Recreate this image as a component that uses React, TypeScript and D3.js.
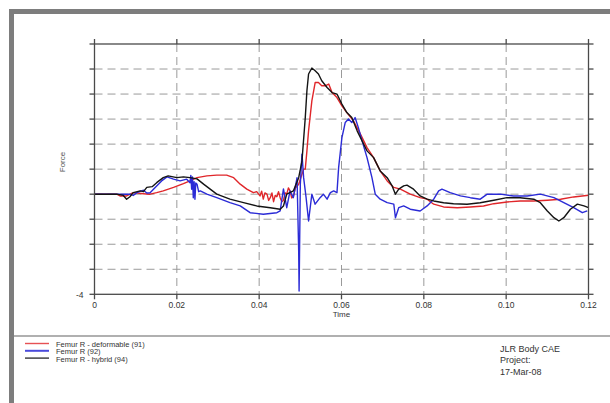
import React from 'react';
import * as d3 from 'd3';

// ---- data ----
const TIME_TICKS = [0, 0.02, 0.04, 0.06, 0.08, 0.1, 0.12];
const TIME_LABELS = ['0', '0.02', '0.04', '0.06', '0.08', '0.10', '0.12'];
const FORCE_TICKS = [-4, -3, -2, -1, 0, 1, 2, 3, 4, 5, 6];
const FORCE_LABELS = ['-4', '', '', '', '', '', '', '', '', '', ''];

// Femur R - deformable (91)  [time, force]
const deformable: [number, number][] = [
  [0, 0], [0.0054, 0], [0.0062, -0.07], [0.0078, -0.07], [0.0094, 0.06], [0.0119, 0.02],
  [0.0135, 0], [0.0151, 0.06], [0.0167, 0.13], [0.0192, 0.27], [0.0216, 0.42], [0.0232, 0.53],
  [0.0249, 0.66], [0.0273, 0.73], [0.0297, 0.76], [0.0321, 0.76], [0.0338, 0.66], [0.0354, 0.4],
  [0.037, 0.2], [0.0386, 0.06], [0.0394, 0.1], [0.0402, -0.07], [0.0406, 0.12], [0.041, -0.2],
  [0.0414, 0.05], [0.0419, 0.0], [0.0423, -0.25], [0.0427, -0.14], [0.0431, 0.05], [0.0435, -0.3],
  [0.0439, -0.05], [0.0443, -0.1], [0.0447, 0.1], [0.0451, -0.14], [0.0455, -0.3], [0.0459, -0.25],
  [0.0463, 0.05], [0.0467, 0], [0.0471, 0.25], [0.0475, 0.13], [0.0479, -0.15], [0.0483, -0.1],
  [0.0488, 0.25], [0.0496, 0.4], [0.0508, 1.0], [0.0512, 1.0], [0.0516, 1.73], [0.052, 2.53],
  [0.0528, 3.73], [0.0536, 4.46], [0.0544, 4.46], [0.0552, 4.33], [0.056, 4.33], [0.0569, 4.4],
  [0.0577, 4.06], [0.0589, 3.86], [0.0601, 3.53], [0.0613, 3.26], [0.0629, 2.93], [0.0646, 2.4],
  [0.0662, 1.86], [0.0678, 1.46], [0.0694, 0.93], [0.0711, 0.53], [0.0727, 0.27], [0.0743, 0.2],
  [0.0767, 0], [0.0791, -0.14], [0.0808, -0.2], [0.0824, -0.4], [0.0848, -0.51], [0.0881, -0.54],
  [0.0913, -0.51], [0.0945, -0.47], [0.097, -0.38], [0.1002, -0.31], [0.1034, -0.27], [0.1067, -0.27],
  [0.11, -0.24], [0.1132, -0.2], [0.1164, -0.11], [0.12, -0.04],
];

// Femur R (92)
const femur92: [number, number][] = [
  [0, 0], [0.0086, 0], [0.0094, -0.05], [0.0103, 0.06], [0.0119, 0.16], [0.0127, 0.05],
  [0.0135, 0.06], [0.0151, 0.33], [0.0163, 0.53], [0.0176, 0.69], [0.0192, 0.6], [0.0208, 0.53],
  [0.0224, 0.6], [0.0232, 0.46], [0.0234, 0.75], [0.0236, 0.2], [0.0238, 0.69], [0.024, -0.14],
  [0.0242, 0.5], [0.0244, -0.2], [0.0246, 0.45], [0.0249, 0.4], [0.0253, 0.1], [0.0257, 0.13],
  [0.0273, 0], [0.0297, -0.14], [0.0329, -0.34], [0.0354, -0.47], [0.0378, -0.74], [0.041, -0.8],
  [0.0443, -0.74], [0.0451, -0.67], [0.0459, 0.21], [0.0467, -0.54], [0.0475, 0.13], [0.0483, -0.14],
  [0.0492, 0.66], [0.0496, -2.27], [0.0497, -3.87], [0.05, 0.4], [0.0504, 1.6], [0.0508, 0.66],
  [0.0514, -0.14], [0.052, -1.07], [0.0528, 0], [0.0536, -0.4], [0.0548, -0.14], [0.0556, 0],
  [0.0565, -0.2], [0.0573, 0.06], [0.0581, 0.13], [0.0589, 0.06], [0.0593, 1.06], [0.0601, 2.26],
  [0.0609, 2.86], [0.0617, 3.0], [0.0625, 2.86], [0.0633, 3.06], [0.0641, 2.66], [0.065, 2.13],
  [0.0662, 1.46], [0.0674, 0.66], [0.0682, 0], [0.0694, -0.2], [0.0711, -0.34], [0.0727, -0.4],
  [0.0731, -0.94], [0.0739, -0.54], [0.0751, -0.47], [0.0767, -0.6], [0.0791, -0.67], [0.0808, -0.47],
  [0.0824, -0.2], [0.0836, 0.13], [0.0844, 0.2], [0.0864, 0.06], [0.0889, -0.07], [0.0913, -0.14],
  [0.0937, -0.2], [0.0954, 0], [0.0986, 0], [0.1018, -0.07], [0.1051, -0.07], [0.1083, 0],
  [0.1116, -0.14], [0.114, -0.34], [0.1164, -0.54], [0.1185, -0.74], [0.1197, -0.67],
];

// Femur R - hybrid (94)
const hybrid: [number, number][] = [
  [0, 0], [0.0054, 0], [0.007, -0.05], [0.0078, -0.2], [0.0086, -0.1], [0.0094, 0.06],
  [0.0111, 0.13], [0.0119, 0.1], [0.0127, 0.27], [0.014, 0.3], [0.0151, 0.46], [0.0167, 0.66],
  [0.0179, 0.73], [0.02, 0.66], [0.0216, 0.69], [0.0232, 0.66], [0.0249, 0.61], [0.0265, 0.4],
  [0.0281, 0.2], [0.0297, 0], [0.0329, -0.2], [0.0362, -0.34], [0.0394, -0.47], [0.0427, -0.54],
  [0.0451, -0.6], [0.0459, -0.47], [0.0467, 0], [0.0483, 0.13], [0.0496, 0.66], [0.0504, 1.33],
  [0.0512, 3.06], [0.0516, 4.13], [0.052, 4.8], [0.0528, 5.04], [0.0536, 4.93], [0.0544, 4.8],
  [0.0552, 4.53], [0.0565, 4.26], [0.0577, 4.06], [0.0589, 4.0], [0.0601, 3.6], [0.0613, 3.26],
  [0.0625, 3.06], [0.0638, 2.53], [0.065, 2.13], [0.0662, 1.73], [0.0678, 1.46], [0.0694, 0.93],
  [0.0711, 0.66], [0.0723, 0.33], [0.0731, 0], [0.0739, 0.2], [0.0751, 0.33], [0.0759, 0.36],
  [0.0775, 0.2], [0.0791, -0.07], [0.0808, -0.2], [0.0824, -0.27], [0.0848, -0.34], [0.0872, -0.38],
  [0.0905, -0.4], [0.0937, -0.34], [0.097, -0.24], [0.1002, -0.14], [0.1034, -0.14], [0.1067, -0.2],
  [0.1083, -0.34], [0.11, -0.67], [0.1116, -0.94], [0.1128, -1.07], [0.114, -0.94], [0.1156, -0.6],
  [0.1173, -0.4], [0.1189, -0.47], [0.12, -0.54],
];

const SERIES_NAMES = ['Femur R - deformable (91)', 'Femur R (92)', 'Femur R - hybrid (94)'];
const SERIES_DATA = [deformable, femur92, hybrid];
const SERIES_COLORS = ['#e0262a', '#2b2bd6', '#141414'];
const FOOTER_LINES = ['JLR Body CAE', 'Project:', '17-Mar-08'];
const X_TITLE = 'Time';
const Y_TITLE = 'Force';

export default function App() {
  const W = 610, H = 403;
  const x = d3.scaleLinear().domain([0, 0.12]).range([94.5, 588.5]);
  const y = d3.scaleLinear().domain([-4, 6]).range([294.3, 44]);
  const line = d3.line<[number, number]>().x(d => x(d[0])).y(d => y(d[1]));
  const [x0, x1] = x.range();
  const [y0, y1] = y.range();
  const font = 'Liberation Sans, Arial, sans-serif';
  const axisColor = '#4a4a4a';
  const tick = 5;

  return (
    <svg width={W} height={H} style={{ position: 'absolute', left: 0, top: 0, background: '#fff' }}>
      <rect x={0} y={0} width={W} height={H} fill="#fff" />
      {/* frame */}
      <rect x={9} y={9} width={W - 9} height={5} fill="#7d7d7d" />
      <rect x={9} y={9} width={5} height={H - 9} fill="#7d7d7d" />
      <line x1={14} x2={W} y1={336} y2={336} stroke="#b0b0b0" strokeWidth={2} />

      {/* grid */}
      {FORCE_TICKS.filter(v => v > -4 && v < 6).map(v => (
        <line key={'gy' + v} x1={x0} x2={x1} y1={y(v)} y2={y(v)} stroke="#9a9a9a" strokeWidth={1} strokeDasharray="8,5" />
      ))}
      {TIME_TICKS.filter(t => t > 0 && t < 0.12).map(t => (
        <line key={'gx' + t} x1={x(t)} x2={x(t)} y1={y1} y2={y0} stroke="#9a9a9a" strokeWidth={1} strokeDasharray="8,5" />
      ))}

      {/* series */}
      {SERIES_DATA.map((d, i) => (
        <path key={'s' + i} d={line(d) || ''} fill="none" stroke={SERIES_COLORS[i]} strokeWidth={1.4} strokeLinejoin="round" />
      ))}

      {/* axes box */}
      <rect x={x0} y={y1} width={x1 - x0} height={y0 - y1} fill="none" stroke={axisColor} strokeWidth={1.3} />
      {TIME_TICKS.map(t => (
        <g key={'tx' + t}>
          <line x1={x(t)} x2={x(t)} y1={y0} y2={y0 + tick} stroke={axisColor} strokeWidth={1.3} />
          <line x1={x(t)} x2={x(t)} y1={y1} y2={y1 - tick} stroke={axisColor} strokeWidth={1.3} />
        </g>
      ))}
      {FORCE_TICKS.map(v => (
        <g key={'ty' + v}>
          <line x1={x0} x2={x0 - tick} y1={y(v)} y2={y(v)} stroke={axisColor} strokeWidth={1.3} />
          <line x1={x1} x2={x1 + tick} y1={y(v)} y2={y(v)} stroke={axisColor} strokeWidth={1.3} />
        </g>
      ))}

      {/* tick labels */}
      {TIME_TICKS.map((t, i) => (
        <text key={'lx' + i} x={x(t)} y={308} textAnchor="middle" fontFamily={font} fontSize={8.5} fill="#333">{TIME_LABELS[i]}</text>
      ))}
      {FORCE_TICKS.map((v, i) => FORCE_LABELS[i] ? (
        <text key={'ly' + i} x={x0 - 11} y={y(v) + 3.5} textAnchor="end" fontFamily={font} fontSize={8.5} fill="#333">{FORCE_LABELS[i]}</text>
      ) : null)}
      <text x={x(0.06)} y={317} textAnchor="middle" fontFamily={font} fontSize={8} fill="#333">{X_TITLE}</text>
      <text transform="translate(64.5,162) rotate(-90)" textAnchor="middle" fontFamily={font} fontSize={8} fill="#555">{Y_TITLE}</text>

      {/* legend */}
      {SERIES_NAMES.map((n, i) => (
        <g key={'lg' + i}>
          <line x1={25} x2={49} y1={343.5 + i * 7.3} y2={343.5 + i * 7.3} stroke={SERIES_COLORS[i]} strokeWidth={i === 1 ? 2 : 1.4} opacity={i === 0 ? 0.8 : 0.85} />
          <text x={56} y={346.6 + i * 7.5} fontFamily={font} fontSize={7.5} fill="#333">{n}</text>
        </g>
      ))}

      {/* footer */}
      {FOOTER_LINES.map((s, i) => (
        <text key={'ft' + i} x={500} y={351.5 + i * 11.7} fontFamily={font} fontSize={9} fill="#333">{s}</text>
      ))}
    </svg>
  );
}
